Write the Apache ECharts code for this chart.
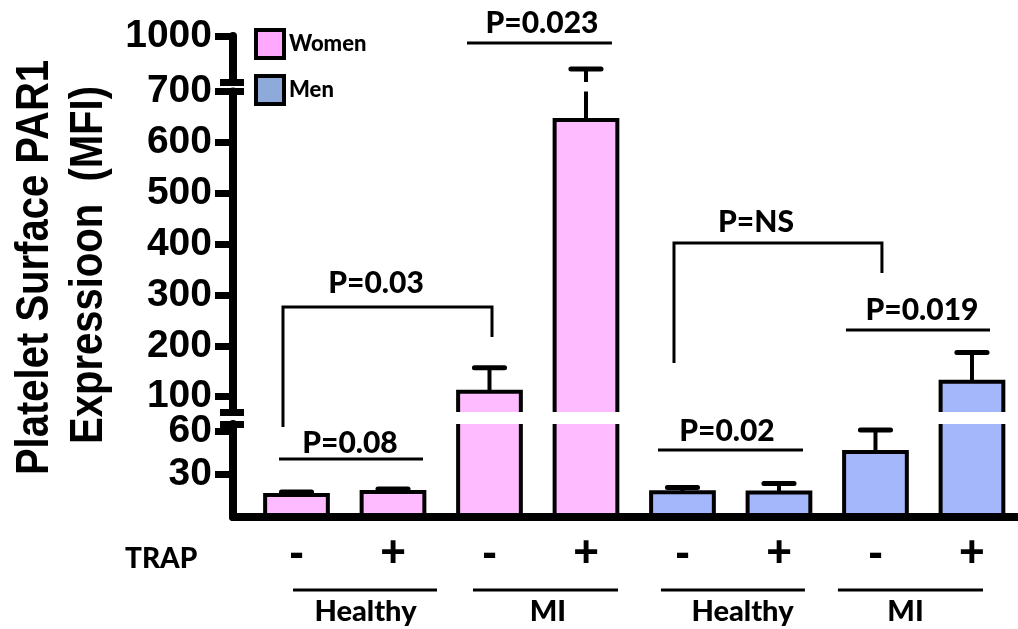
<!DOCTYPE html>
<html><head><meta charset="utf-8">
<script src="https://cdn.jsdelivr.net/npm/echarts@6/dist/echarts.min.js"></script>
<style>html,body{margin:0;padding:0;background:#fff}#c{width:1018px;height:629px}</style>
</head><body><div id="c"></div>
<script>
// ---------------- data ----------------
const categories = ['Women Healthy -', 'Women Healthy +', 'Women MI -', 'Women MI +',
                    'Men Healthy -', 'Men Healthy +', 'Men MI -', 'Men MI +'];
const trapLabels = ['-', '+', '-', '+', '-', '+', '-', '+'];
const groupLabels = ['Healthy', 'MI', 'Healthy', 'MI'];
const seriesNames = ['Women', 'Men'];
const womenMean = [15.4, 17.5, 110, 644];
const womenSem  = [2.1, 2.1, 47, 141];
const menMean   = [17.3, 17.1, 45.4, 129.5];
const menSem    = [3.4, 6.4, 15.4, 57.5];
const yTicksTop = [1000];
const yTicksMid = [100, 200, 300, 400, 500, 600, 700];
const yTicksLow = [30, 60];
const pLabels = ['P=0.08', 'P=0.02', 'P=0.03', 'P=NS', 'P=0.019', 'P=0.023'];
const yTitle = ['Platelet Surface PAR1', 'Expressioon  (MFI)'];
const trapTitle = 'TRAP';

// ---------------- layout / style ----------------
const XMIN = -0.658, XMAX = 7.477;
const segments = [
  {top: 36,   height: 46,    min: 700, max: 1000, ticks: yTicksTop, breaks: [700]},
  {top: 91.5, height: 320.5, min: 70,  max: 700,  ticks: yTicksMid, breaks: [70, 700]},
  {top: 424,  height: 93,    min: 0,   max: 65,   ticks: yTicksLow, breaks: [65]}
];
const BAR_HALF = 0.325, BORDER_W = 4, STEM_W = 4, CAP_W = 5, CAP_RATIO = 0.48;
const colors = {
  Women: {bar: '#FFBBFF', legend: '#FFA8FF'},
  Men:   {bar: '#A4B7FB', legend: '#8EAADB'}
};
const CAL = 'Lato', ARI = '"Liberation Sans", Arial';
const CALW = '900';
// annotation layout (x in category-index units, y in segment's value units)
const annotations = [
  {label: 0, seg: 2, x1: -0.181, x2: 1.311, y: 40.5, textX: 0.554, gap: 17},
  {label: 1, seg: 2, x1: 3.746,  x2: 5.249, y: 46.8, textX: 4.461, gap: 20},
  {label: 2, seg: 1, x1: -0.140, x2: 2.026, y: 276.4, legs: [40.5, 217.4], textX: 0.824, gap: 25},
  {label: 3, seg: 1, x1: 3.912,  x2: 6.067, y: 402.2, legs: [166.3, 343.2], textX: 4.762, gap: 22},
  {label: 4, seg: 1, x1: 5.694,  x2: 7.187, y: 231.2, textX: 6.482, gap: 21},
  {label: 5, seg: 0, x1: 1.767,  x2: 3.269, y: 954.3, textX: 2.544, gap: 21}
];
const groupLayout = [
  {x1: -0.036, x2: 1.456, textX: 0.715},
  {x1: 1.829,  x2: 3.332, textX: 2.606},
  {x1: 3.777,  x2: 5.269, textX: 4.622},
  {x1: 5.611,  x2: 7.114, textX: 6.311}
];

function barRenderer(seg, fill) {
  const s = segments[seg];
  return function (params, api) {
    const idx = api.value(0), mean = api.value(1), sem = api.value(2);
    const children = [];
    const xl = api.coord([idx - BAR_HALF, s.min])[0];
    const xr = api.coord([idx + BAR_HALF, s.min])[0];
    const xc = api.coord([idx, s.min])[0];
    const yBase = api.coord([idx, s.min])[1];
    const ln = {stroke: '#000', lineWidth: BORDER_W};
    if (mean > s.min) {
      const topVal = Math.min(mean, s.max);
      const yTop = api.coord([idx, topVal])[1];
      children.push({type: 'rect', shape: {x: xl, y: yTop, width: xr - xl, height: yBase - yTop}, style: {fill: fill}});
      if (mean <= s.max) {
        children.push({type: 'polyline', shape: {points: [[xl, yBase], [xl, yTop], [xr, yTop], [xr, yBase]]},
          style: {stroke: '#000', lineWidth: BORDER_W, fill: null, lineJoin: 'miter'}});
      } else {
        children.push({type: 'line', shape: {x1: xl, y1: yBase, x2: xl, y2: yTop}, style: ln});
        children.push({type: 'line', shape: {x1: xr, y1: yBase, x2: xr, y2: yTop}, style: ln});
      }
    }
    const hiVal = mean + sem;
    const s0 = Math.max(mean, s.min), s1 = Math.min(hiVal, s.max);
    if (s1 > s0) {
      const y0 = api.coord([idx, s0])[1];
      const y1 = api.coord([idx, s1])[1];
      children.push({type: 'line', shape: {x1: xc, y1: y0, x2: xc, y2: y1}, style: {stroke: '#000', lineWidth: STEM_W}});
    }
    if (hiVal >= s.min && hiVal <= s.max) {
      const yc = api.coord([idx, hiVal])[1];
      const capHalf = (xr - xl) * CAP_RATIO / 2;
      children.push({type: 'line', shape: {x1: xc - capHalf, y1: yc, x2: xc + capHalf, y2: yc},
        style: {stroke: '#000', lineWidth: CAP_W, lineCap: 'round'}});
    }
    return {type: 'group', children: children};
  };
}

function annRenderer(list) {
  return function (params, api) {
    const a = list[params.dataIndex];
    const p1 = api.coord([a.x1, a.y]), p2 = api.coord([a.x2, a.y]);
    let points = [p1, p2];
    if (a.legs) {
      points = [api.coord([a.x1, a.legs[0]]), p1, p2, api.coord([a.x2, a.legs[1]])];
    }
    const t = api.coord([a.textX, a.y]);
    return {type: 'group', children: [
      {type: 'polyline', shape: {points: points}, style: {stroke: '#000', lineWidth: 3, fill: null}},
      {type: 'text', x: t[0], y: t[1] - a.gap + 1,
        style: {text: pLabels[a.label], fill: '#000', font: CALW + ' 30px ' + CAL, align: 'center', verticalAlign: 'middle'}}
    ]};
  };
}

function groupRenderer(params, api) {
  const g = groupLayout[params.dataIndex];
  const y0 = api.coord([0, 0])[1];
  const a = api.coord([g.x1, 0])[0], b = api.coord([g.x2, 0])[0], t = api.coord([g.textX, 0])[0];
  return {type: 'group', children: [
    {type: 'line', shape: {x1: a, y1: y0 + 73, x2: b, y2: y0 + 73}, style: {stroke: '#000', lineWidth: 3}},
    {type: 'text', x: t, y: y0 + 95,
      style: {text: groupLabels[params.dataIndex], fill: '#000', font: CALW + ' 29px ' + CAL, align: 'center', verticalAlign: 'middle'}}
  ]};
}

const grid = [], xAxis = [], yAxis = [], series = [];
segments.forEach((s, k) => {
  grid.push({left: 233, right: 0, top: s.top, height: s.height, containLabel: false, outerBoundsMode: 'none'});
  const isBottom = k === segments.length - 1;
  xAxis.push({
    gridIndex: k, type: 'value', min: XMIN, max: XMAX, show: isBottom, z: 10,
    axisLine: {show: isBottom, onZero: false, lineStyle: {color: '#000', width: 8}},
    axisTick: {show: false}, splitLine: {show: false},
    axisLabel: {show: isBottom, customValues: trapLabels.map((_, i) => i),
      formatter: v => trapLabels[Math.round(v)], margin: 38, verticalAlign: 'middle',
      fontFamily: ARI, fontWeight: 'bold', fontSize: 44, color: '#000'}
  });
  yAxis.push({
    gridIndex: k, type: 'value', min: s.min, max: s.max, position: 'left',
    axisLine: {show: true, onZero: false, lineStyle: {color: '#000', width: 8}},
    axisTick: {show: true, customValues: s.ticks, length: 18, lineStyle: {color: '#000', width: 7}},
    axisLabel: {show: true, customValues: s.ticks, margin: 21, formatter: v => String(v),
      fontFamily: ARI, fontWeight: 'bold', fontSize: 39, color: '#000'},
    splitLine: {show: false}
  });
  yAxis.push({
    gridIndex: k, type: 'value', min: s.min, max: s.max, position: 'left', offset: -11,
    axisLine: {show: false, onZero: false},
    axisTick: {show: true, customValues: s.breaks, length: 24, lineStyle: {color: '#000', width: 7}},
    axisLabel: {show: false}, splitLine: {show: false}
  });
  const womenData = womenMean.map((m, i) => [i, m, womenSem[i]]);
  const menData = menMean.map((m, i) => [i + womenMean.length, m, menSem[i]]);
  [['Women', womenData], ['Men', menData]].forEach(([name, data]) => {
    series.push({
      type: 'custom', name: name, xAxisIndex: k, yAxisIndex: 2 * k, data: data,
      itemStyle: {color: colors[name].legend, borderColor: '#000', borderWidth: 4},
      renderItem: barRenderer(k, colors[name].bar), silent: true
    });
  });
  const list = annotations.filter(a => a.seg === k);
  series.push({
    type: 'custom', name: 'annotations' + k, xAxisIndex: k, yAxisIndex: 2 * k, clip: false,
    data: list.map(a => [a.x1, a.y]), renderItem: annRenderer(list), silent: true, z: 3
  });
});
series.push({
  type: 'custom', name: 'groups', xAxisIndex: 2, yAxisIndex: 4, clip: false,
  data: groupLayout.map(g => [g.x1, 0]), renderItem: groupRenderer, silent: true
});

const chart = echarts.init(document.getElementById('c'), null, {renderer: 'canvas'});
chart.setOption({
  animation: false,
  backgroundColor: '#fff',
  grid: grid, xAxis: xAxis, yAxis: yAxis, series: series,
  legend: {
    show: true, left: 254, top: 28, padding: 0, orient: 'vertical', itemGap: 14, itemWidth: 28, itemHeight: 28,
    selectedMode: false,
    textStyle: {fontFamily: CAL, fontWeight: CALW, fontSize: 22, color: '#000'},
    data: seriesNames.map(n => ({name: n, icon: 'rect',
      itemStyle: {color: colors[n].legend, borderColor: '#000', borderWidth: 4}}))
  },
  graphic: [
    {type: 'text', x: 35.7, y: 267.5, rotation: Math.PI / 2, scaleX: 0.87,
      style: {text: yTitle[0], font: 'bold 46px ' + ARI, fill: '#000', align: 'center', verticalAlign: 'middle'}},
    {type: 'text', x: 89.7, y: 265, rotation: Math.PI / 2, scaleX: 0.87,
      style: {text: yTitle[1], font: 'bold 46px ' + ARI, fill: '#000', align: 'center', verticalAlign: 'middle'}},
    {type: 'text', x: 125, y: 559,
      style: {text: trapTitle, font: CALW + ' 28px ' + CAL, fill: '#000', align: 'left', verticalAlign: 'middle'}}
  ]
});
</script></body></html>
